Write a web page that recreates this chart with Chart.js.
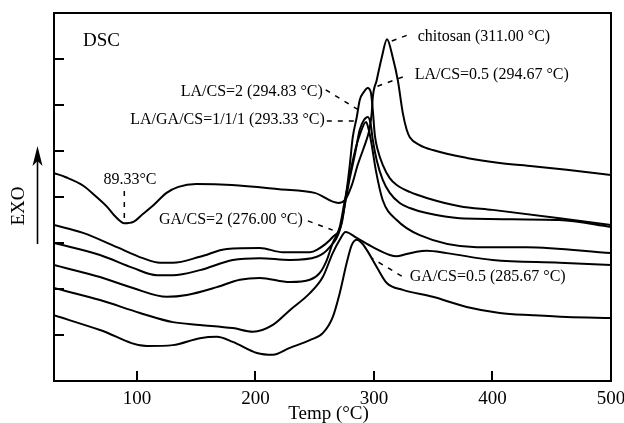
<!DOCTYPE html>
<html><head><meta charset="utf-8">
<script src="https://cdn.jsdelivr.net/npm/chart.js@4.4.1/dist/chart.umd.min.js"></script>
<style>html,body{margin:0;padding:0;background:#fff}canvas{display:block}</style>
</head><body>
<canvas id="c" width="624" height="423"></canvas>
<script>
// ---- axis ticks ----
const xTicks = [100, 200, 300, 400, 500];
const xTickLabels = ["100", "200", "300", "400", "500"];
const yTicks = [1, 2, 3, 4, 5, 6, 7];

// ---- series (temperature in °C, heat flow in arbitrary units, EXO up) ----
const chitosanT = [30,40,55,65,75,82,89.33,97,105,115,125,135,150,180,220,250,270,275.4,281.3,286.3,291.4,294.8,296.4,298.1,299.0,302.3,306.6,311,315.8,320.1,324.3,327.6,330.2,338.6,349.6,378.2,406.1,433.9,462.6,500];
const chitosanY = [4.52,4.43,4.24,4.02,3.78,3.57,3.43,3.46,3.63,3.85,4.09,4.22,4.28,4.26,4.17,4.09,3.87,3.93,4.26,4.70,5.07,5.33,5.50,5.83,6.17,6.54,7.04,7.43,7.04,6.54,5.83,5.46,5.30,5.13,5.02,4.85,4.74,4.67,4.59,4.48];

const la05T = [30,54.5,83.1,105,119.4,130.3,153.1,175.9,203.7,223.1,245.9,251.8,265.2,272.8,277.0,279.6,282.1,285.5,288.0,291.4,294.67,297.3,299.0,300.7,303.2,307.4,313.3,319.2,330.2,344.5,372.3,400.2,456.6,500];
const la05Y = [3.39,3.22,2.91,2.67,2.57,2.57,2.70,2.87,2.89,2.80,2.80,2.85,3.13,3.43,4.15,4.70,5.30,5.74,6.11,6.28,6.37,6.28,5.89,5.35,5.02,4.70,4.41,4.26,4.11,3.98,3.80,3.72,3.54,3.39];

const la2T = [30,68.8,96.6,116.8,130.3,153.1,180.9,203.7,229.0,251.8,262.7,271.1,275.4,279.6,283.8,288.0,291.4,294.83,297.3,299.0,302.3,307.4,313.3,321.7,330.2,344.5,372.3,456.6,500];
const la2Y = [3.00,2.74,2.46,2.30,2.30,2.41,2.63,2.67,2.63,2.70,2.91,3.28,3.83,4.41,4.91,5.46,5.67,5.74,5.57,5.24,4.80,4.37,4.09,3.87,3.76,3.65,3.54,3.50,3.35];

const lagaT = [30,68.8,96.6,125.3,142.1,167.4,186.8,203.7,229.0,245.9,254.3,260.2,265.2,271.1,275.4,279.6,283.8,288.0,293.33,295.6,298.1,301.5,307.4,319.2,338.6,386.7,428.8,500];
const lagaY = [2.52,2.26,2.02,1.83,1.87,2.04,2.20,2.24,2.15,2.20,2.35,2.63,3.00,3.35,3.93,4.48,4.98,5.35,5.63,5.46,5.13,4.59,3.93,3.50,3.17,2.91,2.91,2.78];

const ga2T = [30,68.8,102.5,130.3,153.1,180.9,197.8,214.7,229.0,245.9,256.8,265.2,271.1,276,285.5,299.0,313.3,319.2,326.0,336.0,344.5,361.4,400.2,456.6,500];
const ga2Y = [2.02,1.76,1.48,1.28,1.22,1.15,1.07,1.22,1.54,1.91,2.26,2.78,3.07,3.24,3.11,2.91,2.74,2.71,2.75,2.81,2.83,2.78,2.63,2.57,2.52];

const ga05T = [30,68.8,108.4,130.3,153.1,167.4,180.9,201.2,214.7,229.0,245.9,256.8,265.2,271.1,277.0,281.3,285.67,289.7,293.9,302.3,310.8,324.3,349.6,378.2,406.1,433.9,462.6,500];
const ga05Y = [1.43,1.11,0.76,0.78,0.93,0.96,0.85,0.61,0.57,0.72,0.89,1.04,1.39,1.91,2.57,2.96,3.07,3.00,2.85,2.48,2.13,1.98,1.83,1.61,1.48,1.43,1.39,1.37];

const seriesNames = ["chitosan", "LA/CS=0.5", "LA/CS=2", "LA/GA/CS=1/1/1", "GA/CS=2", "GA/CS=0.5"];
const seriesT = [chitosanT, la05T, la2T, lagaT, ga2T, ga05T];
const seriesY = [chitosanY, la05Y, la2Y, lagaY, ga2Y, ga05Y];

// ---- annotations (data coordinates) ----
const annText  = ["DSC", "chitosan (311.00 °C)", "LA/CS=0.5 (294.67 °C)", "LA/CS=2 (294.83 °C)", "LA/GA/CS=1/1/1 (293.33 °C)", "89.33°C", "GA/CS=2 (276.00 °C)", "GA/CS=0.5 (285.67 °C)"];
const annX     = [54.5, 336.9, 334.4, 256.8, 258.5, 94.1, 240.0, 330.2];
const annY     = [7.39, 7.48, 6.65, 6.28, 5.67, 4.37, 3.50, 2.26];
const annAlign = ["left", "left", "left", "right", "right", "center", "right", "left"];

const leadX1 = [89.33, 315.0, 324.3, 259.3, 260.2, 244.2, 323.4];
const leadY1 = [4.13, 7.39, 6.61, 6.33, 5.65, 3.48, 2.28];
const leadX2 = [89.33, 330.2, 299.0, 289.7, 288.0, 265.2, 298.1];
const leadY2 = [3.52, 7.54, 6.37, 5.85, 5.65, 3.28, 2.67];

const FONT = '"Liberation Serif", "DejaVu Serif", serif';

const datasets = seriesNames.map((n, i) => ({
  label: n,
  data: seriesT[i].map((t, j) => ({x: t, y: seriesY[i][j]})),
  borderColor: "#000",
  borderWidth: 2,
  pointRadius: 0,
  fill: false,
  cubicInterpolationMode: "monotone"
}));

const decor = {
  id: "decor",
  afterDatasetsDraw(chart) {
    const ctx = chart.ctx, xs = chart.scales.x, ys = chart.scales.y, ca = chart.chartArea;
    ctx.save();
    ctx.strokeStyle = "#000"; ctx.fillStyle = "#000";
    // frame
    ctx.lineWidth = 2;
    ctx.strokeRect(ca.left, ca.top, ca.right - ca.left, ca.bottom - ca.top);
    // inward ticks
    ctx.lineWidth = 2;
    ctx.beginPath();
    xTicks.forEach(v => { const p = Math.round(xs.getPixelForValue(v)); ctx.moveTo(p, ca.bottom); ctx.lineTo(p, ca.bottom - 10); });
    yTicks.forEach(v => { const p = Math.round(ys.getPixelForValue(v)); ctx.moveTo(ca.left, p); ctx.lineTo(ca.left + 10, p); });
    ctx.stroke();
    // tick labels
    ctx.font = "19px " + FONT;
    ctx.textAlign = "center"; ctx.textBaseline = "middle";
    xTicks.forEach((v, i) => ctx.fillText(xTickLabels[i], xs.getPixelForValue(v), ca.bottom + 18));
    // axis title
    ctx.fillText("Temp (°C)", (ca.left + ca.right) / 2 - 4, ca.bottom + 33);
    // y title rotated
    ctx.save();
    ctx.translate(19, 206);
    ctx.rotate(-Math.PI / 2);
    ctx.fillText("EXO", 0, 0);
    ctx.restore();
    // arrow
    ctx.lineWidth = 1.6;
    ctx.beginPath(); ctx.moveTo(37.5, 244); ctx.lineTo(37.5, 160); ctx.stroke();
    ctx.beginPath(); ctx.moveTo(37.5, 146); ctx.lineTo(32.5, 166); ctx.lineTo(37.5, 161); ctx.lineTo(42.5, 166); ctx.closePath(); ctx.fill();
    // leaders
    ctx.lineWidth = 1.5;
    ctx.setLineDash([5, 6]);
    ctx.beginPath();
    leadX1.forEach((x, i) => {
      ctx.moveTo(xs.getPixelForValue(x), ys.getPixelForValue(leadY1[i]));
      ctx.lineTo(xs.getPixelForValue(leadX2[i]), ys.getPixelForValue(leadY2[i]));
    });
    ctx.stroke();
    ctx.setLineDash([]);
    // annotation texts
    annText.forEach((t, i) => {
      ctx.font = (i === 0 ? "19px " : "16px ") + FONT;
      ctx.textAlign = annAlign[i];
      ctx.fillText(t, xs.getPixelForValue(annX[i]), ys.getPixelForValue(annY[i]));
    });
    ctx.restore();
  }
};

new Chart(document.getElementById("c"), {
  type: "line",
  data: { datasets },
  options: {
    responsive: false,
    animation: false,
    devicePixelRatio: 1,
    layout: { padding: { left: 54, top: 13, right: 13, bottom: 42 } },
    plugins: { legend: { display: false }, tooltip: { enabled: false } },
    scales: {
      x: { type: "linear", min: 30, max: 500, display: false },
      y: { type: "linear", min: 0, max: 8, display: false }
    }
  },
  plugins: [decor]
});
</script>
</body></html>
